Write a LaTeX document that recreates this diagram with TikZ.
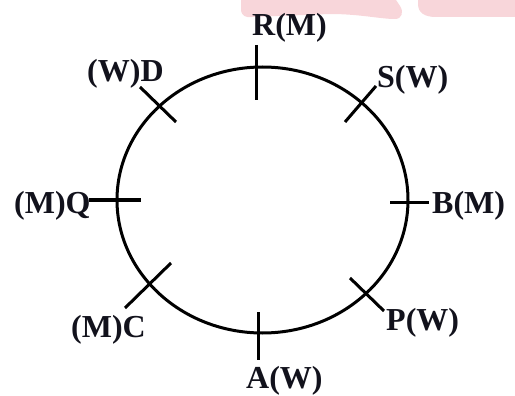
\documentclass[tikz,border=0pt]{standalone}
\usepackage{fontspec}
\setmainfont{Liberation Serif}
\definecolor{wm}{RGB}{248,214,218}
\definecolor{ink}{RGB}{18,18,28}
\begin{document}
\begin{tikzpicture}[x=1pt,y=-1pt,
  lbl/.style={inner sep=0pt,anchor=base west,text=ink,font=\fontsize{32}{38}\selectfont\bfseries},
  ring/.style={line width=3pt,draw=black},
  tick/.style={line width=3pt,draw=black}]
\useasboundingbox (0,0) rectangle (515,396);
% watermark
\fill[wm] (241,0) -- (241,9) .. controls (241,16) and (246,18) .. (252,17)
  -- (330,14) .. controls (360,14) and (380,19) .. (395,19)
  .. controls (402,19) and (404,12) .. (400,6) -- (396,0) -- cycle;
\fill[wm] (418,0) -- (418,4) .. controls (418,13) and (425,17) .. (436,17)
  -- (515,17) -- (515,0) -- cycle;
% ring
\draw[ring] (262.5,200) ellipse [x radius=145.5, y radius=133];
% tick end points
\coordinate (r1) at (256,45);  \coordinate (r2) at (256,100);
\coordinate (s1) at (345,122); \coordinate (s2) at (376,86);
\coordinate (b1) at (390,202); \coordinate (b2) at (429,202);
\coordinate (p1) at (350,278); \coordinate (p2) at (384,311);
\coordinate (a1) at (258,312); \coordinate (a2) at (258,360);
\coordinate (c1) at (171,263); \coordinate (c2) at (125,308);
\coordinate (q1) at (89,200);  \coordinate (q2) at (141,200);
\coordinate (d1) at (140,87);  \coordinate (d2) at (176,122);
\foreach \t in {r,s,b,p,a,c,q,d} \draw[tick] (\t1) -- (\t2);
% labels
\node[lbl] (R) at (252,36) {R(M)};
\node[lbl] (S) at (377,88) {S(W)};
\node[lbl] (D) at (87,82) {(W)D};
\node[lbl] (Q) at (14,213) {(M)Q};
\node[lbl] (B) at (432,213) {B(M)};
\node[lbl] (P) at (386,330) {P(W)};
\node[lbl] (C) at (71,337) {(M)C};
\node[lbl] (A) at (246,388) {A(W)};
\end{tikzpicture}
\end{document}
